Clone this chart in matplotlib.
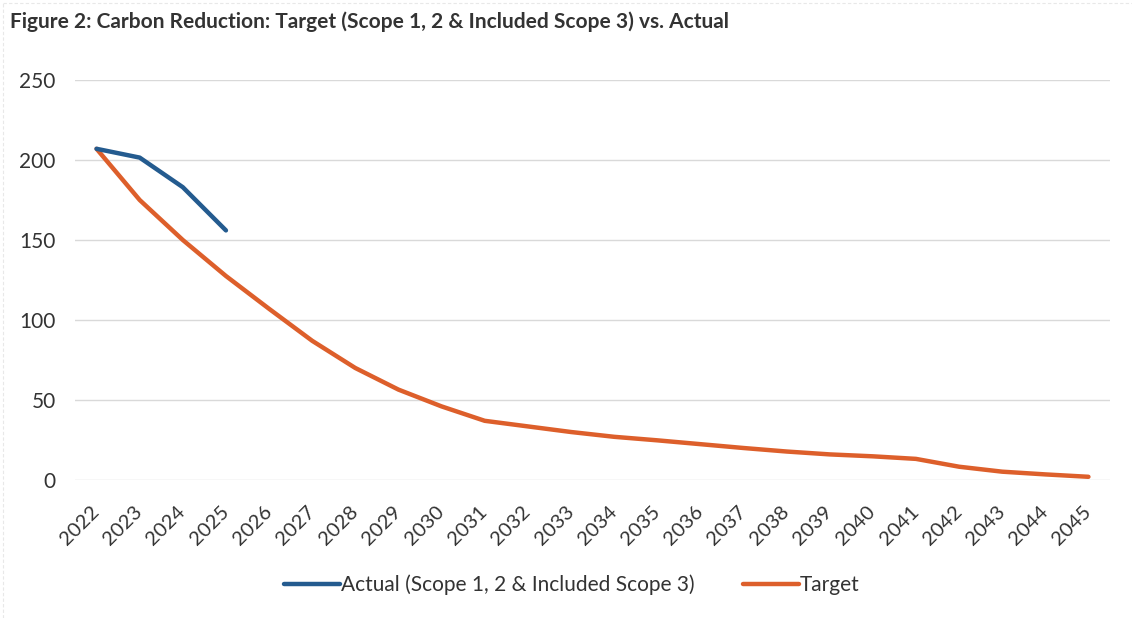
import matplotlib
matplotlib.use("Agg")
import matplotlib.pyplot as plt
from matplotlib.lines import Line2D

years = [str(y) for y in range(2022, 2046)]
actual = [207, 201.5, 183, 156]
target = [207, 175, 150, 127.5, 107, 87, 70, 56.5, 46, 37, 33.5, 30, 27, 24.8,
          22.4, 20, 17.8, 16, 14.8, 13.2, 8.3, 5.2, 3.5, 2]
yticks = [0, 50, 100, 150, 200, 250]

title = "Figure 2: Carbon Reduction: Target (Scope 1, 2 & Included Scope 3) vs. Actual"
actual_label = "Actual (Scope 1, 2 & Included Scope 3)"
target_label = "Target"

plt.rcParams['font.family'] = ['Lato', 'DejaVu Sans']

fig = plt.figure(figsize=(11.32, 6.18), dpi=100)
ax = fig.add_axes([75/1132, 1-480/618, (1110-75)/1132, 400/618])

x = list(range(len(years)))
la, = ax.plot(x[:len(actual)], actual, color='#245B8F', lw=3.2,
              solid_capstyle='round', solid_joinstyle='round', zorder=3)
lt, = ax.plot(x, target, color='#DD5F2B', lw=3.2,
              solid_capstyle='round', solid_joinstyle='round', zorder=2)

ax.set_xlim(-0.5, len(years) - 0.5)
ax.set_ylim(0, 250)
ax.set_yticks(yticks)
ax.set_yticklabels([str(v) for v in yticks], fontsize=15, color='#333333')
ax.set_xticks(x)
ax.set_xticklabels(years, rotation=45, ha='right', va='center',
                   rotation_mode='anchor', fontsize=14.5, color='#333333')
ax.tick_params(axis='both', length=0)
ax.tick_params(axis='y', pad=14)
ax.tick_params(axis='x', pad=21)
ax.grid(axis='y', color='#D9D9D9', lw=1)
ax.set_axisbelow(True)
for s in ax.spines.values():
    s.set_visible(False)

fig.text(10/1132, 1-22/618, title, fontsize=15, fontweight='bold',
         color='#333333', va='center', ha='left')

fig.legend([la, lt], [actual_label, target_label], loc='center',
           bbox_to_anchor=(0.505, 1-585/618), ncol=2, frameon=False,
           fontsize=15, handlelength=2.7, handletextpad=0.05,
           columnspacing=2.3, labelcolor='#333333')

fig.lines.append(Line2D([3/1132, 3/1132], [0, 1-3/618], transform=fig.transFigure,
                        color='#E8E8E8', lw=0.8, ls=(0, (3, 2))))
fig.lines.append(Line2D([3/1132, 1], [1-3/618, 1-3/618], transform=fig.transFigure,
                        color='#E8E8E8', lw=0.8, ls=(0, (3, 2))))

fig.savefig("out.png", dpi=100, facecolor='white')
